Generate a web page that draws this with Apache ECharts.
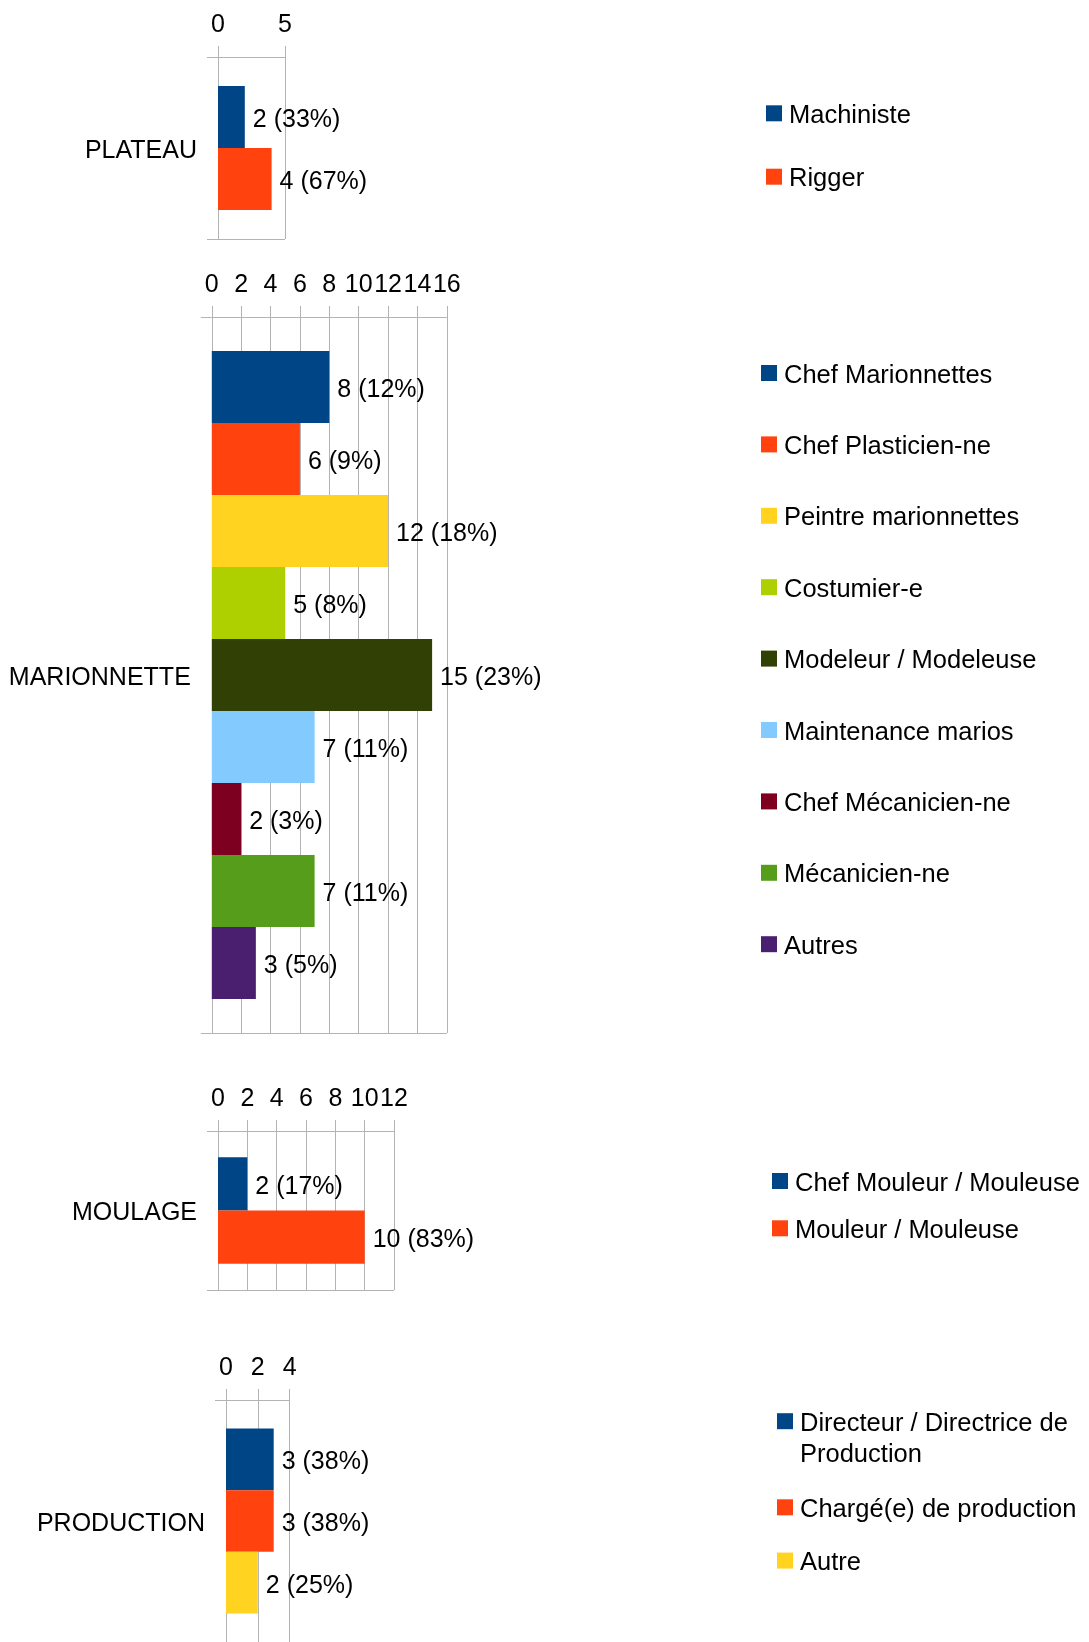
<!DOCTYPE html>
<html>
<head>
<meta charset="utf-8">
<title>Métiers par secteur</title>
<script src="https://cdn.jsdelivr.net/npm/echarts@6/dist/echarts.min.js"></script>
<style>
  html, body { margin: 0; padding: 0; background: #fff; }
  #chart { width: 1089px; height: 1642px; }
</style>
</head>
<body>
<div id="chart"></div>
<script>
// secteurs (une catégorie par bloc)
const sectors = ["PLATEAU", "MARIONNETTE", "MOULAGE", "PRODUCTION"];

// PLATEAU
const plateauRoles = ["Machiniste", "Rigger"];
const plateauCounts = [2, 4];
const plateauTicks = [0, 5];

// MARIONNETTE
const marionnetteRoles = [
  "Chef Marionnettes",
  "Chef Plasticien-ne",
  "Peintre marionnettes",
  "Costumier-e",
  "Modeleur / Modeleuse",
  "Maintenance marios",
  "Chef Mécanicien-ne",
  "Mécanicien-ne",
  "Autres",
];
const marionnetteCounts = [8, 6, 12, 5, 15, 7, 2, 7, 3];
const marionnetteTicks = [0, 2, 4, 6, 8, 10, 12, 14, 16];

// MOULAGE
const moulageRoles = ["Chef Mouleur / Mouleuse", "Mouleur / Mouleuse"];
const moulageCounts = [2, 10];
const moulageTicks = [0, 2, 4, 6, 8, 10, 12];

// PRODUCTION
const productionRoles = [
  "Directeur / Directrice de Production",
  "Chargé(e) de production",
  "Autre",
];
const productionCounts = [3, 3, 2];
const productionTicks = [0, 2, 4];

// palette par défaut (LibreOffice)
const colors = [
  "#004586", "#ff420e", "#ffd320", "#aecf00", "#314004",
  "#83caff", "#7e0021", "#579d1c", "#4b1f6f",
];

const FONT = "'Liberation Sans', Arial, sans-serif";
const GRID_COLOR = "#b3b3b3";

// position des blocs (grille + largeur de barre)
const blocks = [
  { roles: plateauRoles, counts: plateauCounts, ticks: plateauTicks,
    grid: { left: 218, top: 57, width: 67, height: 182 }, barWidth: 62 },
  { roles: marionnetteRoles, counts: marionnetteCounts, ticks: marionnetteTicks,
    grid: { left: 211.8, top: 317, width: 235, height: 716 }, barWidth: 72 },
  { roles: moulageRoles, counts: moulageCounts, ticks: moulageTicks,
    grid: { left: 218, top: 1131, width: 176, height: 159 }, barWidth: 53.3 },
  { roles: productionRoles, counts: productionCounts, ticks: productionTicks,
    grid: { left: 226, top: 1400, width: 63.6, height: 246 }, barWidth: 61.7 },
];

// légendes à droite (padTop = ligne vide au-dessus du texte, pour le descendre)
const legendLayouts = [
  { block: 0, from: 0, to: 2, left: 766, top: 97.8, itemGap: 32.4, lineHeight: 30, padTop: 5 },
  { block: 1, from: 0, to: 9, left: 761, top: 357.5, itemGap: 40.4, lineHeight: 30, padTop: 5 },
  { block: 2, from: 0, to: 2, left: 772, top: 1165.5, itemGap: 16.3, lineHeight: 30, padTop: 5 },
  // "Directeur / Directrice de Production" tient sur deux lignes, carré sur la 1re
  { block: 3, from: 0, to: 1, left: 777, top: 1389.7, itemGap: 0, lineHeight: 31, padTop: 36 },
  { block: 3, from: 1, to: 3, left: 777, top: 1491.3, itemGap: 21.8, lineHeight: 31, padTop: 5 },
];

const grid = [];
const xAxis = [];
const yAxis = [];
const series = [];

blocks.forEach((b, i) => {
  grid.push(b.grid);

  const total = b.counts.reduce((a, c) => a + c, 0);

  xAxis.push({
    type: "value",
    gridIndex: i,
    position: "top",
    min: b.ticks[0],
    max: b.ticks[b.ticks.length - 1],
    interval: b.ticks[1] - b.ticks[0],
    axisLine: { show: false },
    axisTick: { show: true, length: 11, lineStyle: { color: GRID_COLOR } },
    splitLine: { show: true, lineStyle: { color: GRID_COLOR, width: 1 } },
    axisLabel: { color: "#000", fontSize: 25, fontFamily: FONT, margin: 19 },
  });

  yAxis.push({
    type: "category",
    gridIndex: i,
    data: [sectors[i]],
    axisLine: { show: true, lineStyle: { color: GRID_COLOR } },
    axisTick: { show: true, length: 11, lineStyle: { color: GRID_COLOR } },
    splitLine: { show: true, lineStyle: { color: GRID_COLOR } },
    axisLabel: {
      margin: 21,
      // petite ligne vide au-dessus pour abaisser le libellé de ~3px
      formatter: (v) => "{s| }\n{v|" + v + "}",
      rich: {
        s: { fontSize: 1, lineHeight: 6 },
        v: { fontSize: 25, lineHeight: 25, fontFamily: FONT, color: "#000" },
      },
    },
  });

  b.roles.forEach((role, k) => {
    series.push({
      name: role,
      type: "bar",
      xAxisIndex: i,
      yAxisIndex: i,
      data: [b.counts[k]],
      barWidth: b.barWidth,
      barGap: "0%",
      itemStyle: { color: colors[k] },
      label: {
        show: true,
        position: "right",
        distance: 8,
        offset: [0, 3],
        color: "#000",
        fontSize: 25,
        fontFamily: FONT,
        formatter: (p) => p.value + " (" + Math.round((p.value / total) * 100) + "%)",
      },
      animation: false,
    });
  });
});

const legend = legendLayouts.map((lay) => ({
  orient: "vertical",
  left: lay.left,
  top: lay.top,
  padding: 0,
  itemGap: lay.itemGap,
  itemWidth: 16,
  itemHeight: 16,
  icon: "rect",
  selectedMode: false,
  textStyle: {
    color: "#000",
    fontSize: 25.5,
    fontFamily: FONT,
    rich: {
      s: { fontSize: 1, lineHeight: lay.padTop },
      t: {
        fontSize: 25.5,
        lineHeight: lay.lineHeight,
        fontFamily: FONT,
        color: "#000",
        padding: [0, 0, 0, 2],
      },
    },
  },
  formatter: (name) =>
    "{s| }\n" +
    name
      .replace(" de Production", " de\nProduction")
      .split("\n")
      .map((line) => "{t|" + line + "}")
      .join("\n"),
  data: blocks[lay.block].roles.slice(lay.from, lay.to),
}));

const myChart = echarts.init(document.getElementById("chart"));
myChart.setOption({
  animation: false,
  grid,
  xAxis,
  yAxis,
  series,
  legend,
});
</script>
</body>
</html>
